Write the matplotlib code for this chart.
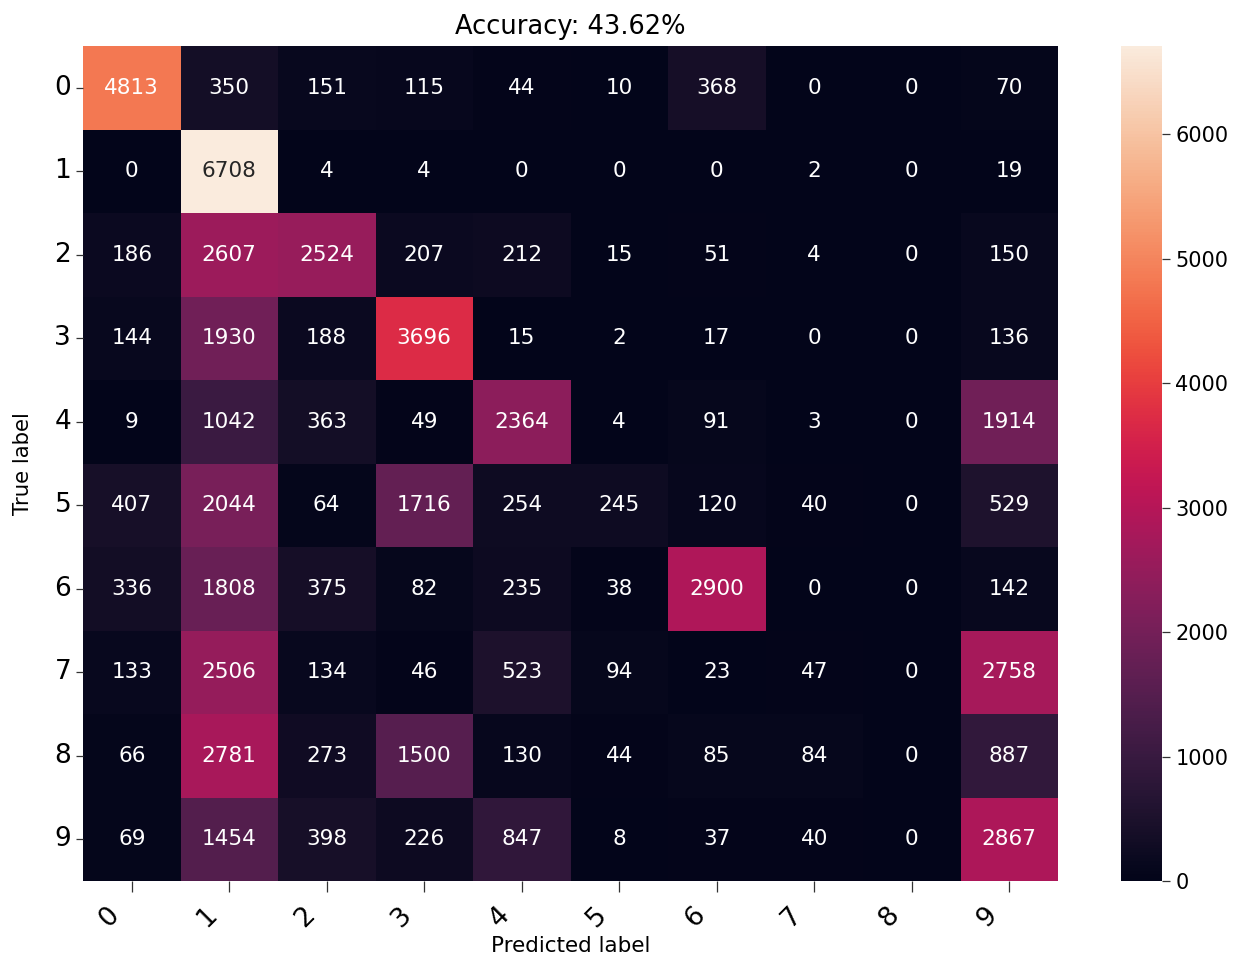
import numpy as np
import matplotlib
matplotlib.use("Agg")
import matplotlib.pyplot as plt
import matplotlib.transforms as mtransforms
import seaborn as sns

labels = ["0", "1", "2", "3", "4", "5", "6", "7", "8", "9"]
row0 = [4813, 350, 151, 115, 44, 10, 368, 0, 0, 70]
row1 = [0, 6708, 4, 4, 0, 0, 0, 2, 0, 19]
row2 = [186, 2607, 2524, 207, 212, 15, 51, 4, 0, 150]
row3 = [144, 1930, 188, 3696, 15, 2, 17, 0, 0, 136]
row4 = [9, 1042, 363, 49, 2364, 4, 91, 3, 0, 1914]
row5 = [407, 2044, 64, 1716, 254, 245, 120, 40, 0, 529]
row6 = [336, 1808, 375, 82, 235, 38, 2900, 0, 0, 142]
row7 = [133, 2506, 134, 46, 523, 94, 23, 47, 0, 2758]
row8 = [66, 2781, 273, 1500, 130, 44, 85, 84, 0, 887]
row9 = [69, 1454, 398, 226, 847, 8, 37, 40, 0, 2867]
title = "Accuracy: 43.62%"

cm = np.array([row0, row1, row2, row3, row4, row5, row6, row7, row8, row9])

fig = plt.figure(figsize=(12.44, 9.59), dpi=100)
ax = fig.add_axes([83/1244, 1-881/959, (1058-83)/1244, (881-46)/959])
cax = fig.add_axes([1121/1244, 1-881/959, 41/1244, (881-46)/959])

sns.heatmap(cm, annot=True, fmt="d", cmap="rocket", ax=ax, cbar_ax=cax,
            xticklabels=labels, yticklabels=labels,
            annot_kws={"fontsize": 15.5})

ax.set_title(title, fontsize=18.5, pad=9)
ax.set_xlabel("Predicted label", fontsize=15.5)
ax.set_ylabel("True label", fontsize=15.3)
ax.xaxis.set_label_coords(0.5, (881-936)/835)
ax.yaxis.set_label_coords((33-83)/975, 0.5)
ax.tick_params(axis="both", labelsize=19, width=0.9, color="#333333")
ax.tick_params(axis="y", length=5)
ax.tick_params(axis="x", length=8, pad=5)
plt.setp(ax.get_yticklabels(), rotation=0)
plt.setp(ax.get_xticklabels(), rotation=45, ha="right")
off = mtransforms.ScaledTranslation(-7/100, -3/100, fig.dpi_scale_trans)
for t in ax.get_xticklabels():
    t.set_transform(t.get_transform() + off)
cax.tick_params(labelsize=15, length=6, width=0.9, color="#333333")
for s in cax.spines.values():
    s.set_visible(False)

fig.savefig("out.png", dpi=100)
